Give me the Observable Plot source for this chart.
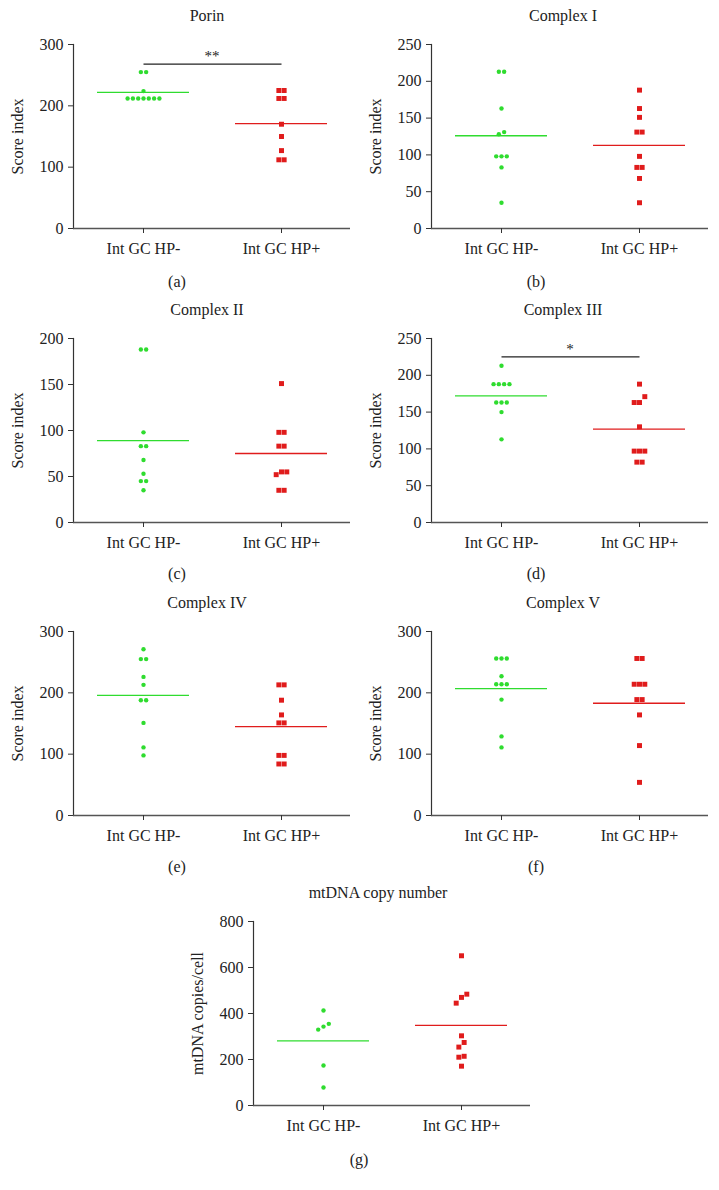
<!DOCTYPE html>
<html><head><meta charset="utf-8">
<script src="https://cdn.jsdelivr.net/npm/d3@7"></script>
<script src="https://cdn.jsdelivr.net/npm/@observablehq/plot@0.6"></script>
<style>
body{margin:0;background:#fff;}
#root{position:relative;width:719px;height:1190px;font-family:"Liberation Serif","DejaVu Serif",serif;color:#222;overflow:hidden;}
.lbl{position:absolute;font-size:16px;transform:translate(-50%,-50%);white-space:nowrap;line-height:1;}
.panel{position:absolute;}
</style></head><body><div id="root"></div>
<script>
const groups = ["Int GC HP-", "Int GC HP+"];
const GREEN = "#2fdc2f", RED = "#e01c1c";

// Porin
const porinNeg = [255,255,224,212,212,212,212,212,212,212];
const porinPos = [225,225,212,212,170,150,127,112,112];
const porinMeans = [222,171];
// Complex I
const c1Neg = [213,213,163,131,128,98,98,98,83,35];
const c1Pos = [188,163,151,131,131,98,83,83,68,35];
const c1Means = [126,113];
// Complex II
const c2Neg = [188,188,98,83,83,68,53,45,45,35];
const c2Pos = [151,98,98,83,83,55,52,55,35,35];
const c2Means = [89,75];
// Complex III
const c3Neg = [213,188,188,188,188,163,163,163,150,113];
const c3Pos = [188,171,163,163,130,97,97,97,82,82];
const c3Means = [172,127];
// Complex IV
const c4Neg = [271,255,255,226,213,188,188,151,111,98];
const c4Pos = [213,213,188,164,151,151,98,98,84,84];
const c4Means = [196,145];
// Complex V
const c5Neg = [256,256,256,227,214,214,214,189,129,111];
const c5Pos = [256,256,214,214,214,189,189,164,114,54];
const c5Means = [207,183];
// mtDNA copy number
const mtNeg = [413,355,343,330,174,78];
const mtPos = [651,484,470,445,303,274,254,214,210,171];
const mtMeans = [281,348];

const root = document.getElementById("root");
const PW = 277, PH = 184, ML = 75, MR = 10, MT = 8, MB = 36;

function addLabel(text, x, y){
  const d = document.createElement("div");
  d.className = "lbl"; d.textContent = text;
  d.style.left = x + "px"; d.style.top = y + "px";
  root.appendChild(d);
}

function panel(cfg){
  const {neg, pos, means, max, step, ylabel, sig, sigText, ax, top, title, titleX, letter, letterX, letterY} = cfg;
  const pxPerUnit = PH / max;
  const rows = [];
  [[groups[0], neg], [groups[1], pos]].forEach(([g, vals]) => {
    const s = [...vals].sort((a, b) => a - b);
    let cl = [];
    const flush = () => { cl.forEach((v, k) => rows.push({g, v, slot: k - (cl.length - 1) / 2})); cl = []; };
    s.forEach(v => { if (cl.length && (v - cl[cl.length - 1]) * pxPerUnit > 6.5) flush(); cl.push(v); });
    flush();
  });
  const slots = [...new Set(rows.map(r => r.slot))];
  const dotMarks = slots.flatMap(sl => [
    Plot.dot(rows.filter(r => r.slot === sl && r.g === groups[0]), {x: "g", y: "v", r: 2.2, fill: GREEN, dx: sl * 5.3}),
    Plot.dot(rows.filter(r => r.slot === sl && r.g === groups[1]), {x: "g", y: "v", r: 2.8, fill: RED, symbol: "square", dx: sl * 5.3})
  ]);
  const meanRows = groups.map((g, i) => ({g, v: means[i]}));
  const marks = [
    Plot.frame({anchor: "left", stroke: "#333", strokeWidth: 1.2}),
    Plot.ruleY([0], {stroke: "#555", strokeWidth: 1.6}),
    Plot.axisY({ticks: d3.range(0, max + 1, step), tickSize: 5, tickPadding: 5, label: ylabel, labelAnchor: "center", labelArrow: "none", labelOffset: 62, stroke: "#333", fill: "#222"}),
    Plot.axisX({tickSize: 5, tickPadding: 9, label: null, stroke: "#333", fill: "#222"}),
    Plot.tickY(meanRows, {x: "g", y: "v", stroke: (d) => d.g === groups[0] ? GREEN : RED, insetLeft: 23, insetRight: 23, strokeWidth: 1.3}),
    ...dotMarks
  ];
  if (sig) {
    const sd = [{a: groups[0], b: groups[1], y: sig, t: sigText}];
    marks.push(Plot.link(sd, {x1: "a", x2: "b", y1: "y", y2: "y", stroke: "#222", strokeWidth: 1.1}));
    marks.push(Plot.text(sd, {y: "y", text: "t", frameAnchor: "middle", dy: -8, fontSize: 15, fill: "#222"}));
  }
  const svg = Plot.plot({
    width: ML + PW + MR, height: MT + PH + MB,
    marginLeft: ML, marginRight: MR, marginTop: MT, marginBottom: MB,
    style: {fontFamily: '"Liberation Serif","DejaVu Serif",serif', fontSize: "16px", color: "#222", background: "transparent", overflow: "visible"},
    x: {type: "band", domain: groups, padding: 0},
    y: {domain: [0, max], nice: false},
    marks
  });
  svg.classList.add("panel");
  svg.style.left = (ax - ML) + "px";
  svg.style.top = (top - MT) + "px";
  root.appendChild(svg);
  addLabel(title, titleX, top - 28);
  addLabel(letter, letterX, letterY);
}

panel({neg: porinNeg, pos: porinPos, means: porinMeans, max: 300, step: 100, ylabel: "Score index", sig: 268, sigText: "**", ax: 73, top: 44, title: "Porin", titleX: 207, letter: "(a)", letterX: 177, letterY: 282});
panel({neg: c1Neg, pos: c1Pos, means: c1Means, max: 250, step: 50, ylabel: "Score index", ax: 431, top: 44, title: "Complex I", titleX: 563, letter: "(b)", letterX: 536, letterY: 282});
panel({neg: c2Neg, pos: c2Pos, means: c2Means, max: 200, step: 50, ylabel: "Score index", ax: 73, top: 338, title: "Complex II", titleX: 207, letter: "(c)", letterX: 177, letterY: 574});
panel({neg: c3Neg, pos: c3Pos, means: c3Means, max: 250, step: 50, ylabel: "Score index", sig: 225, sigText: "*", ax: 431, top: 338, title: "Complex III", titleX: 563, letter: "(d)", letterX: 536, letterY: 574});
panel({neg: c4Neg, pos: c4Pos, means: c4Means, max: 300, step: 100, ylabel: "Score index", ax: 73, top: 631, title: "Complex IV", titleX: 207, letter: "(e)", letterX: 177, letterY: 867});
panel({neg: c5Neg, pos: c5Pos, means: c5Means, max: 300, step: 100, ylabel: "Score index", ax: 431, top: 631, title: "Complex V", titleX: 563, letter: "(f)", letterX: 536, letterY: 867});
panel({neg: mtNeg, pos: mtPos, means: mtMeans, max: 800, step: 200, ylabel: "mtDNA copies/cell", ax: 253, top: 921, title: "mtDNA copy number", titleX: 378, letter: "(g)", letterX: 359, letterY: 1160});
</script>
</body></html>
